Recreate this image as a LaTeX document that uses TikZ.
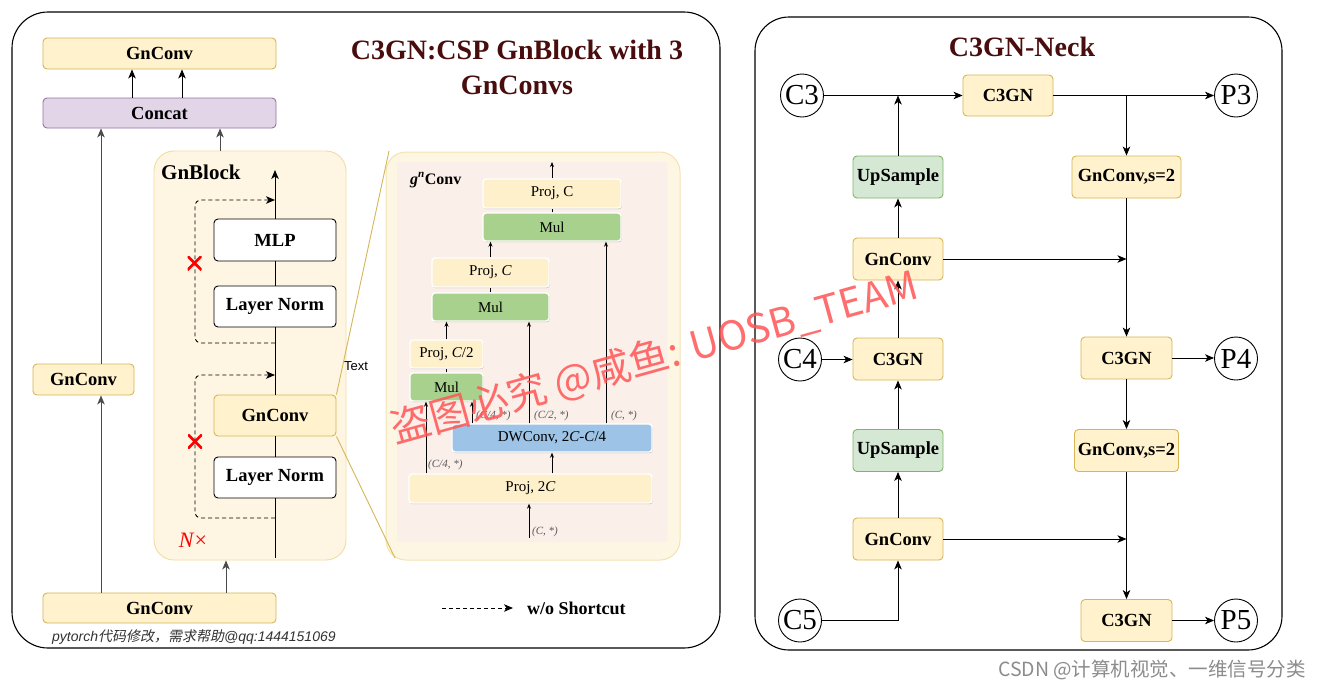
\documentclass[tikz,border=0pt]{standalone}
\usepackage{fontspec}
\setmainfont{Liberation Serif}
\newfontfamily\sansf{Liberation Sans}
\newfontfamily\cjk{Noto Sans CJK SC}
\newfontfamily\cjkit[FakeSlant=0.2]{Noto Sans CJK SC}
\usetikzlibrary{arrows.meta,shadows,calc}
\definecolor{yfill}{HTML}{FFF2CC}
\definecolor{ydraw}{HTML}{D6B656}
\definecolor{pfill}{HTML}{E1D5E7}
\definecolor{pdraw}{HTML}{9673A6}
\definecolor{gfill}{HTML}{D5E8D4}
\definecolor{gdraw}{HTML}{82B366}
\definecolor{titlec}{HTML}{4A0D0D}
\definecolor{blockfill}{HTML}{FEF6E2}
\definecolor{blockdraw}{HTML}{F0DDA0}
\definecolor{gnpanel}{HTML}{FDF6E3}
\definecolor{gnpaneldraw}{HTML}{F3E3B3}
\definecolor{pinkpanel}{HTML}{FBEFE9}
\definecolor{iyellow}{HTML}{FEF0CA}
\definecolor{igreen}{HTML}{A9D18E}
\definecolor{iblue}{HTML}{9DC3E6}
\definecolor{wmc}{HTML}{FF5555}
\begin{document}
\begin{tikzpicture}[x=1pt,y=-1pt,
  box/.style={rectangle, rounded corners=4pt, draw, line width=0.9pt, inner sep=0pt,
    font=\fontsize{18.5}{20}\selectfont\bfseries, align=center},
  ybox/.style={box, fill=yfill, draw=ydraw},
  pbox/.style={box, fill=pfill, draw=pdraw},
  gbox/.style={box, fill=gfill, draw=gdraw},
  wbox/.style={box, fill=white, draw=black},
  cnode/.style={circle, draw, line width=0.9pt, fill=white, minimum size=43pt, inner sep=0pt,
    font=\fontsize{29}{30}\selectfont},
  ibox/.style={rectangle, rounded corners=3pt, draw=white, line width=1.4pt, inner sep=0pt,
    font=\fontsize{15}{17}\selectfont,
    drop shadow={shadow xshift=0.6pt, shadow yshift=-1.2pt, opacity=0.3, fill=black!70}},
  arr/.style={-{Stealth[length=9pt,width=7.5pt,inset=2.5pt]}, line width=0.9pt},
  garr/.style={arr, draw=black!70},
  iarr/.style={-{Stealth[length=5pt,width=4pt]}, line width=0.8pt},
  dasharr/.style={-{Stealth[length=9pt,width=7.5pt,inset=2.5pt]}, line width=0.9pt, dash pattern=on 4pt off 3pt},
  lbl/.style={font=\fontsize{11}{13}\selectfont\itshape, text=black!65, anchor=west, inner sep=0pt},
  redx/.style={minimum size=14pt, inner sep=0pt,
    path picture={\draw[red, line width=2.6pt] (path picture bounding box.north west) -- (path picture bounding box.south east)
      (path picture bounding box.north east) -- (path picture bounding box.south west);}},
  panel/.style={draw=black, line width=1.1pt, fill=white}
]
\useasboundingbox (0,0) rectangle (1323,689);
\fill[white] (0,0) rectangle (1323,689);

% ---------------- panels ----------------
\node[panel, rectangle, rounded corners=36pt, minimum width=708pt, minimum height=636pt] (lpanel) at (366,330) {};
\node[panel, rectangle, rounded corners=34pt, minimum width=527pt, minimum height=633pt] (rpanel) at (1018.5,333.5) {};

% ---------------- left: CSP ----------------
\node[font=\fontsize{28}{35}\selectfont\bfseries, text=titlec, align=center] (ltitle) at (517,67) {C3GN:CSP GnBlock with 3\\GnConvs};

\node[ybox, minimum width=233pt, minimum height=31pt] (gtop) at (159.5,53.5) {GnConv};
\node[pbox, minimum width=233pt, minimum height=30pt] (concat) at (159.5,113) {Concat};
\node[ybox, minimum width=101pt, minimum height=31pt] (gleft) at (83.5,379.5) {GnConv};
\node[ybox, minimum width=233pt, minimum height=30pt] (gbot) at (159.5,608) {GnConv};

\node[rectangle, rounded corners=20pt, fill=blockfill, draw=blockdraw, line width=0.9pt,
  minimum width=192pt, minimum height=409pt] (gnblock) at (250,355.5) {};
\node[anchor=west, inner sep=0pt, font=\fontsize{21}{24}\selectfont\bfseries] (gnbl) at (161,172) {GnBlock};

\coordinate (x132) at (132,0);
\coordinate (x182) at (182,0);
\coordinate (x101) at (101,0);
\coordinate (x220) at (220,0);
\coordinate (x226) at (226,0);
\draw[arr] (concat.north -| x132) -- (gtop.south -| x132);
\draw[arr] (concat.north -| x182) -- (gtop.south -| x182);
\draw[garr] (gleft.north -| x101) -- (concat.south -| x101);
\draw[garr] (gbot.north -| x101) -- (gleft.south -| x101);
\draw[garr] (gnblock.north -| x220) -- (concat.south -| x220);
\draw[garr] (gbot.north -| x226) -- (gnblock.south -| x226);

\node[wbox, minimum width=122pt, minimum height=42pt] (mlp) at (275,240) {MLP};
\node[wbox, minimum width=122pt, minimum height=41pt] (ln1) at (275,306.5) {Layer Norm};
\node[ybox, minimum width=122pt, minimum height=41pt] (gin) at (275,415.5) {GnConv};
\node[wbox, minimum width=122pt, minimum height=41pt] (ln2) at (275,477.5) {Layer Norm};

\coordinate (mbot) at (275,558);
\coordinate (mtop) at (275,170);
\draw[line width=0.9pt] (mbot) -- (ln2.south) (ln2.north) -- (gin.south) (gin.north) -- (ln1.south) (ln1.north) -- (mlp.south);
\draw[arr] (mlp.north) -- (mtop);

\coordinate (d1s) at (275,343);
\coordinate (d1e) at (275,200);
\coordinate (d2s) at (275,518);
\coordinate (d2e) at (275,375);
\draw[dasharr, rounded corners=6pt] (d1s) -- (195,343) -- (195,200) -- (d1e);
\draw[dasharr, rounded corners=6pt] (d2s) -- (195,518) -- (195,375) -- (d2e);
\node[redx] (rx1) at (194.5,263) {};
\node[redx] (rx2) at (195,441.5) {};
\node[text=red, font=\fontsize{22}{24}\selectfont] (nx) at (193,540) {\textit{N}×};

% ---------------- gnConv detail ----------------
\node[rectangle, rounded corners=20pt, fill=gnpanel, draw=gnpaneldraw, line width=1pt,
  minimum width=294pt, minimum height=408pt] (gnp) at (533,356) {};
\node[rectangle, rounded corners=3pt, fill=pinkpanel, minimum width=270pt, minimum height=380pt] (pink) at (532,352) {};
\coordinate (zt) at (389,151);
\coordinate (zb) at (395,558);
\draw[ydraw, line width=0.9pt] (gin.north east) -- (zt);
\draw[ydraw, line width=0.9pt] (gin.south east) -- (zb);
\node[font=\sansf\fontsize{13}{15}\selectfont] (txt) at (356,366) {Text};

\node[anchor=west, inner sep=0pt, font=\fontsize{16}{18}\selectfont\bfseries] (gnlab) at (410,180) {\textit{g}\textsuperscript{\textit{n}}Conv};

\node[ibox, fill=iyellow, minimum width=138pt, minimum height=29pt] (projc1) at (552,193.5) {Proj, C};
\node[ibox, fill=igreen, minimum width=138pt, minimum height=28pt] (mul1) at (552,227) {Mul};
\node[ibox, fill=iyellow, minimum width=117pt, minimum height=29pt] (projc2) at (490.5,272.5) {Proj, \textit{C}};
\node[ibox, fill=igreen, minimum width=117pt, minimum height=28pt] (mul2) at (490.5,307) {Mul};
\node[ibox, fill=iyellow, minimum width=73pt, minimum height=28pt] (projc4) at (446.5,354) {Proj, \textit{C}/2};
\node[ibox, fill=igreen, minimum width=73pt, minimum height=28pt] (mul3) at (446.5,387) {Mul};
\node[ibox, fill=iblue, minimum width=200pt, minimum height=28pt] (dw) at (552,438) {DWConv, 2\textit{C}-\textit{C}/4};
\node[ibox, fill=iyellow, minimum width=243pt, minimum height=29pt] (proj2c) at (530.5,488.5) {Proj, 2\textit{C}};

\coordinate (gout) at (552,162);
\coordinate (gin2) at (529,538);
\coordinate (x606) at (606,0);
\coordinate (x529) at (529,0);
\coordinate (x472) at (472,0);
\coordinate (x426) at (426,0);
\coordinate (x552) at (552,0);
\draw[iarr] (projc1.north) -- (gout);
\draw[line width=0.8pt] (mul1.north) -- (projc1.south);
\draw[line width=0.8pt] (mul2.north) -- (projc2.south);
\draw[line width=0.8pt] (mul3.north) -- (projc4.south);
\draw[iarr] (projc2.north) -- (projc2.north |- mul1.south);
\draw[iarr] (projc4.north) -- (projc4.north |- mul2.south);
\draw[iarr] (dw.north -| x606) -- (mul1.south -| x606);
\draw[iarr] (dw.north -| x529) -- (mul2.south -| x529);
\draw[iarr] (dw.north -| x472) -- (mul3.south -| x472);
\draw[iarr] (proj2c.north -| x426) -- (mul3.south -| x426);
\draw[iarr] (proj2c.north -| x552) -- (dw.south -| x552);
\draw[iarr] (gin2) -- (proj2c.south -| x529);

\node[lbl] (l1) at (532,532) {(C, *)};
\node[lbl] (l2) at (428,465) {(C/4, *)};
\node[lbl] (l3) at (476,416) {(C/4, *)};
\node[lbl] (l4) at (534,416) {(C/2, *)};
\node[lbl] (l5) at (611,416) {(C, *)};

% legend
\coordinate (lg1) at (442,608);
\coordinate (lg2) at (513,608);
\draw[dasharr] (lg1) -- (lg2);
\node[anchor=west, inner sep=0pt, font=\fontsize{18}{20}\selectfont\bfseries] (lgt) at (527,608) {w/o Shortcut};

\node[anchor=west, inner sep=0pt, text=black!80, font=\fontsize{14}{16}\selectfont] (note) at (52,637)
  {\sansf\itshape pytorch\cjkit 代码修改，需求帮助\sansf\itshape @qq:1444151069};

% ---------------- right: neck ----------------
\node[font=\fontsize{28}{30}\selectfont\bfseries, text=titlec] (rtitle) at (1022,47) {C3GN-Neck};

\node[cnode] (c3) at (802,95.5) {C3};
\node[cnode] (p3) at (1236,95.5) {P3};
\node[cnode] (c4) at (800,359.5) {C4};
\node[cnode] (p4) at (1236,358.5) {P4};
\node[cnode] (c5) at (800,620.5) {C5};
\node[cnode] (p5) at (1236,620.5) {P5};

\node[ybox, minimum width=90pt, minimum height=41pt] (c3gn1) at (1008,95.5) {C3GN};
\node[gbox, minimum width=90pt, minimum height=42pt] (up1) at (898,177) {UpSample};
\node[ybox, minimum width=90pt, minimum height=42pt] (gc1) at (898,259) {GnConv};
\node[ybox, minimum width=90pt, minimum height=42pt] (c3gn2) at (898,359) {C3GN};
\node[gbox, minimum width=90pt, minimum height=42pt] (up2) at (898,450.5) {UpSample};
\node[ybox, minimum width=90pt, minimum height=42pt] (gc2) at (898,539) {GnConv};
\node[ybox, minimum width=109pt, minimum height=42pt] (gs1) at (1126.5,177) {GnConv,s=2};
\node[ybox, minimum width=91pt, minimum height=42pt] (c3gn3) at (1126.5,358) {C3GN};
\node[ybox, minimum width=104pt, minimum height=42pt] (gs2) at (1126.5,450.5) {GnConv,s=2};
\node[ybox, minimum width=91pt, minimum height=42pt] (c3gn4) at (1126.5,620.5) {C3GN};

\draw[arr] (c3.east) -- (c3gn1.west);
\draw[arr] (up1.north) -- (up1.north |- c3.east);
\draw[arr] (gc1.north) -- (up1.south);
\draw[arr] (c3gn2.north) -- (gc1.south);
\draw[arr] (c4.east) -- (c4.east -| c3gn2.west);
\draw[arr] (up2.north) -- (c3gn2.south);
\draw[arr] (gc2.north) -- (up2.south);
\draw[arr] (c5.east) -| (gc2.south);
\draw[arr] (c3gn1.east) -- (p3.west);
\draw[arr] (c3gn1.east -| gs1.north) -- (gs1.north);
\draw[arr] (gc1.east) -- (gc1.east -| gs1.south);
\draw[arr] (gs1.south) -- (c3gn3.north);
\draw[arr] (c3gn3.east) -- (c3gn3.east -| p4.west);
\draw[arr] (c3gn3.south) -- (gs2.north);
\draw[arr] (gc2.east) -- (gc2.east -| gs2.south);
\draw[arr] (gs2.south) -- (c3gn4.north);
\draw[arr] (c3gn4.east) -- (p5.west);

% ---------------- watermarks ----------------
\node[rotate=15.5, text=wmc, opacity=0.85, font=\cjk\fontsize{40}{44}\selectfont] (wmk) at (655,358) {盗图必究 @咸鱼: UOSB\_TEAM};
\node[text=black!45, font=\cjk\fontsize{19.5}{21}\selectfont] (csdn) at (1152,670) {CSDN @计算机视觉、一维信号分类};
\end{tikzpicture}
\end{document}
